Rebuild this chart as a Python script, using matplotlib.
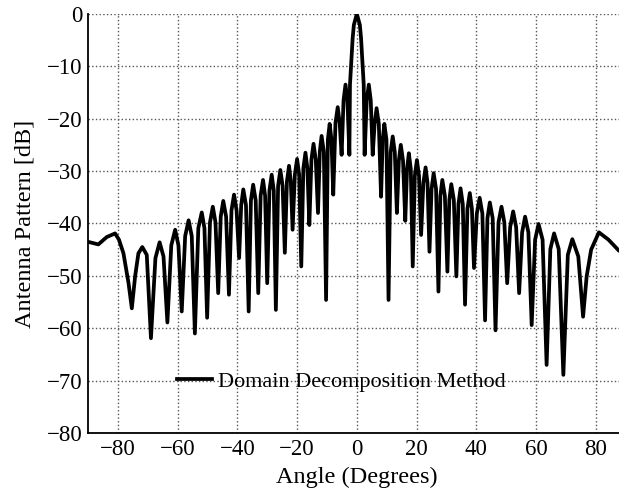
import matplotlib
matplotlib.use('Agg')
import matplotlib.pyplot as plt

# Antenna pattern (angle in degrees, level in dB)
angle = [
    -90.0, -86.5, -83.7, -80.9, -79.6, -78.1, -76.4, -75.3,
    -74.2, -73.1, -71.8, -70.3, -68.9,
    -67.4, -66.0, -64.7, -63.4,
    -62.1, -60.8, -59.7, -58.6,
    -57.45, -56.3, -55.25, -54.2,
    -53.05, -51.9, -51.0, -50.1,
    -49.15, -48.2, -47.3, -46.4,
    -45.55, -44.7, -43.75, -42.8,
    -41.95, -41.1, -40.25, -39.4,
    -38.7, -38.0, -37.1, -36.2,
    -35.45, -34.7, -33.85, -33.0,
    -32.2, -31.4, -30.7, -30.0,
    -29.25, -28.5, -27.8, -27.1,
    -26.35, -25.6, -24.85, -24.1,
    -23.4, -22.7, -22.1, -21.5,
    -20.75, -20.0, -19.3, -18.6,
    -17.9, -17.2, -16.55, -15.9,
    -15.2, -14.5, -13.75, -13.0,
    -12.4, -11.8, -11.05, -10.3,
    -9.7, -9.1, -8.5, -7.9,
    -7.15, -6.4, -5.75, -5.1,
    -4.45, -3.8, -3.15, -2.5,
    -2.3, -1.4, -1.0, 0.0, 1.0, 1.4, 2.3, 2.6,
    3.3, 4.0, 4.65, 5.3,
    5.95, 6.6, 7.35, 8.1,
    8.65, 9.2, 9.9, 10.6,
    11.3, 12.0, 12.7, 13.4,
    14.05, 14.7, 15.45, 16.2,
    16.8, 17.4, 18.05, 18.7,
    19.4, 20.1, 20.8, 21.5,
    22.25, 23.0, 23.65, 24.3,
    25.0, 25.7, 26.5, 27.3,
    27.95, 28.6, 29.45, 30.3,
    30.95, 31.6, 32.45, 33.3,
    34.0, 34.7, 35.45, 36.2,
    37.0, 37.8, 38.5, 39.2,
    40.15, 41.1, 42.0, 42.9,
    43.7, 44.5, 45.45, 46.4,
    47.4, 48.4, 49.35, 50.3,
    51.3, 52.3, 53.3, 54.3,
    55.3, 56.3, 57.4, 58.5,
    59.65, 60.8, 62.15, 63.5,
    64.75, 66.0, 67.55, 69.1,
    70.6, 72.1, 74.1, 75.7,
    76.9, 78.4, 81.0, 84.2, 87.7, 90.0,
]
level = [
    -43.5, -44.0, -42.6, -41.9, -43.1, -45.7, -51.4, -56.2,
    -50.1, -45.7, -44.5, -46.0, -61.9,
    -46.6, -43.6, -46.3, -58.9,
    -44.2, -41.2, -44.2, -56.8,
    -42.4, -39.4, -42.4, -61.0,
    -40.9, -37.9, -40.9, -58.0,
    -39.8, -36.8, -39.8, -53.3,
    -38.7, -35.7, -38.7, -53.6,
    -37.5, -34.5, -37.5, -46.6,
    -36.5, -33.5, -36.5, -56.8,
    -35.6, -32.6, -35.6, -53.3,
    -34.7, -31.7, -34.7, -51.4,
    -33.7, -30.7, -33.7, -56.5,
    -32.8, -29.8, -32.8, -45.6,
    -32.0, -29.0, -32.0, -41.2,
    -30.7, -27.7, -30.7, -48.2,
    -29.5, -26.5, -29.5, -40.3,
    -27.8, -24.8, -27.8, -38.0,
    -26.3, -23.3, -26.3, -54.6,
    -24.0, -21.0, -24.0, -34.5,
    -20.8, -17.8, -20.8, -26.9,
    -16.5, -13.5, -16.5, -26.9,
    -13.5, -4.6, -2.1, 0.0, -2.1, -4.6, -13.5, -26.9,
    -16.5, -13.5, -16.5, -26.9,
    -21.0, -18.0, -21.0, -34.9,
    -24.0, -21.0, -24.0, -54.6,
    -26.4, -23.4, -26.4, -38.0,
    -28.0, -25.0, -28.0, -39.5,
    -29.6, -26.6, -29.6, -48.2,
    -30.9, -27.9, -30.9, -42.2,
    -32.3, -29.3, -32.3, -45.4,
    -33.4, -30.4, -33.4, -53.0,
    -34.7, -31.7, -34.7, -49.2,
    -35.5, -32.5, -35.5, -50.1,
    -36.3, -33.3, -36.3, -55.5,
    -37.2, -34.2, -37.2, -48.5,
    -38.1, -35.1, -38.1, -58.5,
    -39.0, -36.0, -39.0, -60.4,
    -39.8, -36.8, -39.8, -51.4,
    -40.7, -37.7, -40.7, -53.3,
    -41.7, -38.7, -41.7, -59.4,
    -43.1, -40.1, -43.1, -67.0,
    -44.9, -41.9, -44.9, -68.9,
    -46.0, -43.0, -46.3, -57.8,
    -50.1, -45.0, -41.7, -43.1, -45.2, -45.6,
]

x_ticks = [-80, -60, -40, -20, 0, 20, 40, 60, 80]
y_ticks = [0, -10, -20, -30, -40, -50, -60, -70, -80]

plt.rcParams['font.family'] = ['Liberation Serif', 'DejaVu Serif']

fig = plt.figure(figsize=(6.19, 4.96), dpi=100)
ax = fig.add_axes([0.142, 0.127, 0.869, 0.845])

ax.plot(angle, level, color='black', linewidth=2.7, label='Domain Decomposition Method')

ax.set_xlim(-90, 90)
ax.set_ylim(-80, 0)
ax.set_xticks(x_ticks)
ax.set_yticks(y_ticks)
ax.grid(True, linestyle=':', color='#555555', linewidth=1.0)
ax.tick_params(direction='in', length=0, labelsize=16.5, pad=4)

ax.spines['top'].set_visible(False)
ax.spines['right'].set_visible(False)
ax.spines['left'].set_linewidth(1.3)
ax.spines['bottom'].set_linewidth(1.3)

ax.set_xlabel('Angle (Degrees)', fontsize=17.5, labelpad=5)
ax.set_ylabel('Antenna Pattern [dB]', fontsize=17.5, labelpad=8)

ax.legend(loc='center left', bbox_to_anchor=(0.128, 0.122), frameon=False,
          fontsize=16, handlelength=1.6, handletextpad=0.25)

fig.savefig('out.png', dpi=100)
